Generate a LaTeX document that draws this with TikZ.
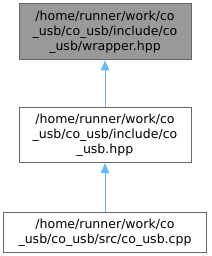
\documentclass[tikz,border=0pt]{standalone}
\usepackage{fontspec}
\setmainfont{DejaVu Sans}
\usetikzlibrary{arrows.meta,positioning}
\definecolor{edgeblue}{RGB}{99,184,255}
\definecolor{boxline}{RGB}{102,102,102}
\definecolor{curfill}{RGB}{153,153,153}

\begin{document}
\begin{tikzpicture}[
  node distance=35pt,
  file/.style={rectangle,draw=boxline,line width=0.75pt,fill=white,minimum width=129pt,minimum height=42pt,inner sep=0pt,align=center,font=\fontsize{9.4}{11.25}\selectfont},
  cur/.style={file,fill=curfill},
  dep/.style={-{Triangle[length=7.5pt,width=6.5pt]},line width=0.75pt,draw=edgeblue,fill=edgeblue}
]
  \useasboundingbox (0,0) rectangle (158.25pt,-192pt);
  \node[cur] (wrapper) at (78.75pt,-24pt) {/home/runner/work/co\\\_usb/co\_usb/include/co\\\_usb/wrapper.hpp};
  \node[file,below=35.25pt of wrapper,minimum height=41pt] (cousbhpp) {/home/runner/work/co\\\_usb/co\_usb/include/co\\\_usb.hpp};
  \node[file,below=36.75pt of cousbhpp,minimum width=152pt,minimum height=30pt] (cousbcpp) {/home/runner/work/co\\\_usb/co\_usb/src/co\_usb.cpp};
  \draw[dep] (cousbhpp) -- (wrapper);
  \draw[dep] (cousbcpp) -- (cousbhpp);
\end{tikzpicture}
\end{document}
